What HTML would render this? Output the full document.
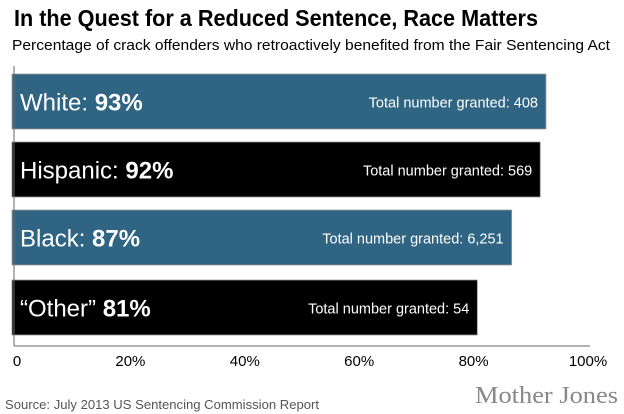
<!DOCTYPE html>
<html><head><meta charset="utf-8"><style>
html,body{margin:0;padding:0;background:#fff;}
svg{display:block;font-family:"Liberation Sans",sans-serif;}
</style></head><body>
<svg id="chart" width="624" height="414" viewBox="0 0 624 414">
<text x="14" y="26" font-size="23" font-weight="bold" textLength="524" lengthAdjust="spacingAndGlyphs" fill="#000">In the Quest for a Reduced Sentence, Race Matters</text>
<text x="12" y="50" font-size="15" textLength="598" lengthAdjust="spacingAndGlyphs" fill="#000">Percentage of crack offenders who retroactively benefited from the Fair Sentencing Act</text>
<g id="bars"></g>
<line x1="14" y1="66" x2="14" y2="346" stroke="#666" stroke-width="1"/>
<line x1="14" y1="346" x2="590" y2="346" stroke="#666" stroke-width="1"/>
<g id="ticks"></g>
<text x="5" y="409" font-size="13" textLength="314" lengthAdjust="spacingAndGlyphs" fill="#555">Source: July 2013 US Sentencing Commission Report</text>
<text x="618" y="403" text-anchor="end" font-family="Liberation Serif,serif" font-size="24" textLength="143" lengthAdjust="spacingAndGlyphs" fill="#888">Mother Jones</text>
</svg>
<script>
const categories = ["White:","Hispanic:","Black:","\u201COther\u201D"];
const percents = [93,92,87,81];
const granted = ["408","569","6,251","54"];
const tickValues = [0,20,40,60,80,100];
const tickLabels = ["0","20%","40%","60%","80%","100%"];
const NS="http://www.w3.org/2000/svg";
const x0=14, pxPer=5.72;
function xScale(v){return x0+v*pxPer;}
const barTop=[74,142,210,280], barH=55;
const colors=["#2f6482","#000","#2f6482","#000"];
const bars=document.getElementById('bars');
categories.forEach((c,i)=>{
  const r=document.createElementNS(NS,'rect');
  
  
  r.setAttribute('x',12);r.setAttribute('y',barTop[i]);
  r.setAttribute('width',xScale(percents[i])-12);r.setAttribute('height',barH);
  r.setAttribute('fill',colors[i]);r.setAttribute('stroke','#999');r.setAttribute('stroke-width','0.8');
  bars.appendChild(r);
  const t=document.createElementNS(NS,'text');
  
  
  t.setAttribute('x',20);t.setAttribute('y',barTop[i]+barH/2+9);
  t.setAttribute('font-size','24');t.setAttribute('fill','#fff');
  t.innerHTML=c+' <tspan font-weight="bold">'+percents[i]+'%</tspan>';
  bars.appendChild(t);
  const g=document.createElementNS(NS,'text');
  
  
  g.setAttribute('x',xScale(percents[i])-8);g.setAttribute('y',barTop[i]+barH/2+6);
  g.setAttribute('text-anchor','end');
  g.setAttribute('font-size','14.5');g.setAttribute('fill','#fff');
  g.setAttribute('xml:space','preserve');
  g.textContent='Total number granted:  '+granted[i];
  bars.appendChild(g);
});
const ticks=document.getElementById('ticks');
tickValues.forEach((v,i)=>{
  const t=document.createElementNS(NS,'text');
  
  
  t.setAttribute('x',i==0?17:xScale(v)+2);t.setAttribute('y',366);
  t.setAttribute('text-anchor','middle');t.setAttribute('font-size','15');t.setAttribute('fill','#000');
  t.textContent=tickLabels[i];
  ticks.appendChild(t);
});
</script>
</body></html>
